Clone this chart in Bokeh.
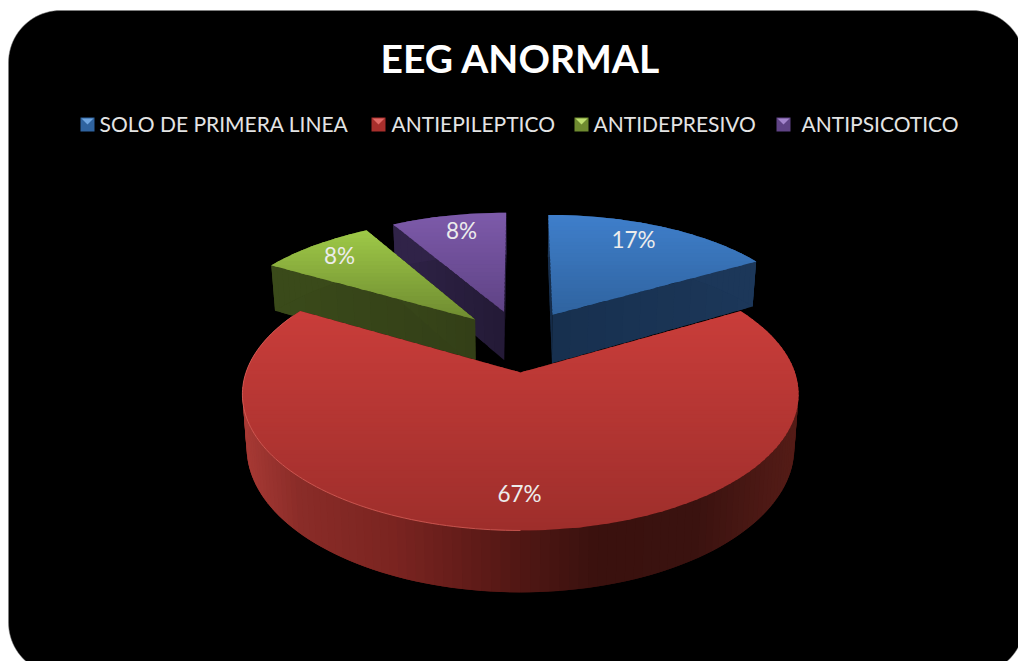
import numpy as np
from bokeh.plotting import figure
from bokeh.models import Range1d
from bokeh.core.properties import value
from bokeh.embed import file_html
from bokeh.resources import INLINE

TITLE = "EEG ANORMAL"
CATEGORIES = ["SOLO DE PRIMERA LINEA", "ANTIEPILEPTICO", "ANTIDEPRESIVO", "ANTIPSICOTICO"]
VALUES = [16.67, 66.67, 8.33, 8.33]
PERCENT_LABELS = ["17%", "67%", "8%", "8%"]

# styling
TOP_LIGHT = ["#3f7fcb", "#c93d3a", "#9ec948", "#7d5aaa"]
TOP_DARK = ["#2f639f", "#9e2e2b", "#6f8b30", "#5f4385"]
FACE_NEAR = ["#17304f", "#4a1512", "#333f17", "#231a36"]
FACE_FAR = ["#1c3759", "#4a1512", "#3a4a1a", "#302348"]
RED_SIDE_X = [242, 300, 400, 520, 600, 700, 800]
RED_SIDE_C = ["#a83a35", "#8a2c28", "#7a2420", "#521714", "#3a110e", "#3a120f", "#551c17"]
LEGEND_LIGHT = ["#6fa5e0", "#e26a66", "#bfe070", "#a385cc"]
LEGEND_BASE = ["#2f639f", "#a82f2c", "#6f8b30", "#5f4385"]

# geometry of the tilted pie, in picture pixels
CX, CY, RX, RY, PERSP, DEPTH, NARROW = 520.0, 372.0, 274.5, 132.7, 0.16, 52.0, 0.985
EXPLODE = 0.25
LABEL_XY = [(633, 239), (519, 493), (339, 255), (461, 230)]
LEG_MARK_X = [80, 371, 574, 776]
LEG_TEXT_X = [99, 391, 593, 801]
LEG_Y = 123


def rgb(h):
    return np.array([int(h[i:i + 2], 16) for i in (1, 3, 5)], float)


def mix(a, b, t):
    t = min(max(t, 0.0), 1.0)
    c = rgb(a) * (1 - t) + rgb(b) * t
    return "#%02x%02x%02x" % tuple(int(round(v)) for v in c)


def ramp(xs, cs, x):
    if x <= xs[0]:
        return cs[0]
    for i in range(len(xs) - 1):
        if x <= xs[i + 1]:
            return mix(cs[i], cs[i + 1], (x - xs[i]) / (xs[i + 1] - xs[i]))
    return cs[-1]


def proj(X, Y, low=False):
    s = 1.0 / (1.0 + PERSP * Y)
    x = CX + RX * X * s
    y = CY - RY * Y * s
    if low:
        x = CX + (x - CX) * NARROW
        y = y + DEPTH * s
    return x, y


def clip(poly, y0, y1):
    def half(pts, keep, cross):
        out = []
        for i in range(len(pts)):
            a, b = pts[i], pts[(i + 1) % len(pts)]
            if keep(a):
                out.append(a)
            if keep(a) != keep(b):
                t = (cross - a[1]) / (b[1] - a[1])
                out.append((a[0] + t * (b[0] - a[0]), cross))
        return out
    p1 = half(poly, lambda q: q[1] >= y0, y0)
    return half(p1, lambda q: q[1] <= y1, y1) if p1 else []


p = figure(width=1018, height=661, x_range=Range1d(0, 1018), y_range=Range1d(661, 0),
           output_backend="svg", toolbar_location=None, min_border=0,
           background_fill_color="white", border_fill_color="white", outline_line_color=None)
p.axis.visible = False
p.grid.visible = False

# rounded black card
L, T, R_, B, RAD = 8, 10, 1024, 674, 52
arc = np.linspace(0, np.pi / 2, 24)
bx = list(L + RAD - RAD * np.cos(arc)) + list(R_ - RAD + RAD * np.sin(arc)) + list(R_ - RAD + RAD * np.cos(arc)) + list(L + RAD - RAD * np.sin(arc))
by = list(T + RAD - RAD * np.sin(arc)) + list(T + RAD - RAD * np.cos(arc)) + list(B - RAD + RAD * np.sin(arc)) + list(B - RAD + RAD * np.cos(arc))
p.patch(bx, by, fill_color="black", line_color="#808080", line_width=0.5)

# slice angles from the values (clockwise from the top)
total = sum(VALUES)
edges = np.concatenate([[0], np.cumsum(VALUES)]) / total * 2 * np.pi
PIE_Y = EXPLODE


def slice_origin(i):
    mid = (edges[i] + edges[i + 1]) / 2
    return EXPLODE * np.sin(mid), PIE_Y + EXPLODE * np.cos(mid)


def draw_slice(i):
    a0, a1 = edges[i], edges[i + 1]
    ox, oy = slice_origin(i)
    n = max(6, int((a1 - a0) / 0.03))
    ang = np.linspace(a0, a1, n)
    xs, ys, cols = [], [], []

    def face(a):
        for k in range(12):
            r0, r1 = k / 12, min(1.0, (k + 1.6) / 12)
            P = [(ox + r0 * np.sin(a), oy + r0 * np.cos(a)), (ox + r1 * np.sin(a), oy + r1 * np.cos(a))]
            t0, t1 = proj(*P[0]), proj(*P[1])
            b0, b1 = proj(*P[0], low=True), proj(*P[1], low=True)
            xs.append([t0[0], t1[0], b1[0], b0[0]])
            ys.append([t0[1], t1[1], b1[1], b0[1]])
            cols.append(mix(FACE_NEAR[i], FACE_FAR[i], (k + 0.5) / 12))

    face(a0)
    face(a1)
    # outer rim
    for k in range(n - 1):
        j = min(k + 2, n - 1)
        P0 = (ox + np.sin(ang[k]), oy + np.cos(ang[k]))
        P1 = (ox + np.sin(ang[j]), oy + np.cos(ang[j]))
        t0, t1 = proj(*P0), proj(*P1)
        b0, b1 = proj(*P0, low=True), proj(*P1, low=True)
        xs.append([t0[0], t1[0], b1[0], b0[0]])
        ys.append([t0[1], t1[1], b1[1], b0[1]])
        cols.append(ramp(RED_SIDE_X, RED_SIDE_C, t0[0]) if i == 1 else FACE_FAR[i])
    p.patches(xs, ys, fill_color=cols, line_color=None)

    # top surface in horizontal colour bands, each overlapping the next
    outline = [proj(ox, oy)] + [proj(ox + np.sin(a), oy + np.cos(a)) for a in ang]
    ymin, ymax = min(q[1] for q in outline), max(q[1] for q in outline)
    xs, ys, cols = [], [], []
    nb = int((ymax - ymin) / 4) + 1
    for k in range(nb):
        y0 = ymin + (ymax - ymin) * k / nb
        y1 = ymin + (ymax - ymin) * (k + 1) / nb + 1.5
        c = clip(outline, y0, y1)
        if len(c) >= 3:
            xs.append([q[0] for q in c])
            ys.append([q[1] for q in c])
            cols.append(mix(TOP_LIGHT[i], TOP_DARK[i], (k + 0.5) / nb))
    p.patches(xs, ys, fill_color=cols, line_color=None)

    if i == 1:  # soft highlight on the near-left edge
        aa = np.linspace(np.pi, 1.65 * np.pi, 90)
        pts = [proj(ox + np.sin(a), oy + np.cos(a)) for a in aa]
        p.line([q[0] for q in pts], [q[1] for q in pts], line_color="#d9605a", line_width=1, line_alpha=0.8)


for idx in (3, 2, 0, 1):
    draw_slice(idx)

# data labels
p.text([q[0] for q in LABEL_XY], [q[1] for q in LABEL_XY], text=PERCENT_LABELS,
       text_font=value("Lato"), text_font_size="22.5px", text_color="#ececec",
       text_align="center", text_baseline="middle")

# title
p.text([520], [57], text=[TITLE], text_font=value("Lato"), text_font_style="bold",
       text_font_size="39px", text_color="white", text_align="center", text_baseline="middle")

# legend
for i, name in enumerate(CATEGORIES):
    x0 = LEG_MARK_X[i]
    p.quad(left=[x0], right=[x0 + 14], top=[LEG_Y - 6], bottom=[LEG_Y + 8],
           fill_color=LEGEND_BASE[i], line_color=None)
    p.patch([x0 + 1, x0 + 13, x0 + 7], [LEG_Y - 5, LEG_Y - 5, LEG_Y + 1],
            fill_color=LEGEND_LIGHT[i], line_color=None)
    p.text([LEG_TEXT_X[i]], [LEG_Y], text=[name], text_font=value("Lato"),
           text_font_size="21px", text_color="#e4e4e4", text_align="left", text_baseline="middle")

open("out.html", "w").write(file_html(p, INLINE))
